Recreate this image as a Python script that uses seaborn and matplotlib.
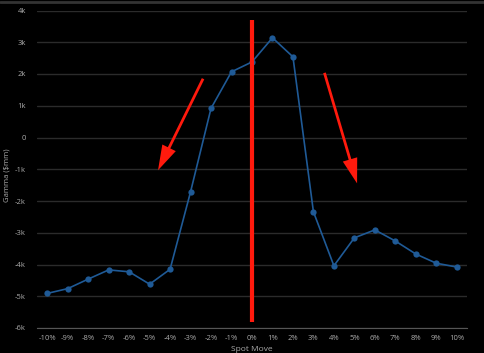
import matplotlib
matplotlib.use("Agg")
import matplotlib.pyplot as plt
import seaborn as sns
import numpy as np
from matplotlib.patches import FancyArrowPatch
from matplotlib.lines import Line2D

spot_moves = ["-10%", "-9%", "-8%", "-7%", "-6%", "-5%", "-4%", "-3%", "-2%", "-1%",
              "0%", "1%", "2%", "3%", "4%", "5%", "6%", "7%", "8%", "9%", "10%"]
gamma = [-4910, -4760, -4460, -4170, -4230, -4620, -4150, -1710, 920, 2070,
         2380, 3140, 2540, -2340, -4040, -3160, -2910, -3260, -3670, -3960, -4080]
y_ticks = [-6000, -5000, -4000, -3000, -2000, -1000, 0, 1000, 2000, 3000, 4000]
y_tick_labels = ["-6k", "-5k", "-4k", "-3k", "-2k", "-1k", "0", "1k", "2k", "3k", "4k"]

sns.set_theme(style="dark")
plt.rcParams['font.family'] = ['Open Sans', 'DejaVu Sans']

fig = plt.figure(figsize=(4.85, 3.53), dpi=100, facecolor="black")
ax = fig.add_axes([37/485, 1-328/353, 430/485, (328-10.5)/353])
ax.set_facecolor("black")

pos = np.arange(len(spot_moves))
sns.lineplot(x=pos, y=gamma, ax=ax, color="#1f5a96", linewidth=1.2,
             marker="o", markersize=4.5, markeredgewidth=0, markeredgecolor="#1f5a96")

ax.set_xlim(-0.5, len(spot_moves) - 0.5)
ax.set_ylim(-6000, 4000)
ax.set_yticks(y_ticks)
ax.set_yticklabels(y_tick_labels)
ax.grid(axis="y", color="#2b2b2b", linewidth=1)
ax.grid(axis="x", visible=False)

ax.set_xticks(np.arange(-0.5, len(spot_moves)), minor=False)
ax.set_xticklabels([])
ax.set_xticks(pos, minor=True)
ax.set_xticklabels(spot_moves, minor=True)
ax.tick_params(axis="x", which="major", length=5, color="#555555", width=0.8, direction="out")
ax.tick_params(axis="x", which="minor", length=0, labelsize=5.5, labelcolor="#aaaaaa", pad=5)
ax.tick_params(axis="y", length=0, labelsize=5.5, labelcolor="#aaaaaa", pad=8)

for s in ["top", "right", "left"]:
    ax.spines[s].set_visible(False)
ax.spines["bottom"].set_color("#555555")
ax.spines["bottom"].set_linewidth(0.8)

ax.set_xlabel("Spot Move", color="#aaaaaa", fontsize=6, labelpad=3)
ax.set_ylabel("")
fig.text(7/485, 1-175/353, "Gamma ($mm)", rotation=90, color="#aaaaaa", fontsize=5.5,
         ha="center", va="center")

# red vertical line at 0%
ax.plot([10, 10], [3700, -5800], color="#ff1a0d", linewidth=3, solid_capstyle="butt", zorder=5)

# arrows
for (x0, y0), (x1, y1) in [((7.67, 1930), (5.35, -1110)), ((13.5, 2120), (15.17, -1530))]:
    arr = FancyArrowPatch((x0, y0), (x1, y1),
                          arrowstyle="simple,head_width=6,head_length=10,tail_width=1.1",
                          color="#ff1a0d", mutation_scale=1.8, zorder=6, linewidth=0)
    ax.add_patch(arr)

fig.add_artist(Line2D([0, 1], [1-1.5/353, 1-1.5/353], color="#333333", linewidth=2,
                      transform=fig.transFigure))

fig.savefig("out.png", dpi=100, facecolor="black")
